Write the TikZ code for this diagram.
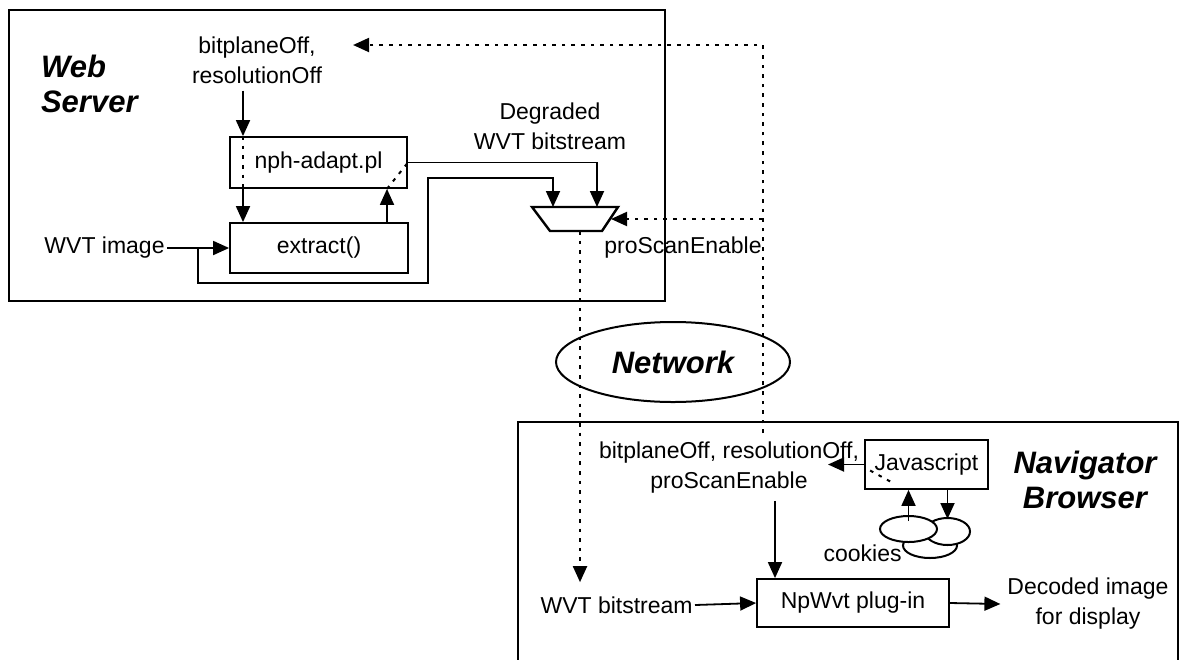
\documentclass[tikz,border=0pt]{standalone}
\usepackage{fontspec}
\setmainfont{Liberation Sans}
\usetikzlibrary{arrows.meta,shapes.geometric}
\tikzset{
  box/.style={draw=black,line width=0.9pt,inner sep=0pt},
  lbl/.style={align=center,font=\fontsize{11.5}{15}\selectfont},
  ttl/.style={align=center,font=\fontsize{15.5}{17.5}\selectfont\bfseries\itshape},
  wire/.style={line width=0.9pt},
  dots/.style={line width=1pt,dash pattern=on 1.8pt off 3pt},
  cookie/.style={ellipse,draw=black,fill=white,line width=1pt,inner sep=0pt},
}
\begin{document}
\begin{tikzpicture}[x=0.5pt,y=-0.5pt,>={Triangle[length=8pt,width=7pt]}]
    \useasboundingbox (0,0) rectangle (1181,659);
    % frames
    \draw[line width=1.1pt] (9,10) rectangle (665,301);
    \draw[line width=1.2pt] (518,422) rectangle (1178,680);
    \node[ttl,align=left,anchor=west] (srvname) at ( 34.0,  84.0) {Web\\Server};
    \node[ttl]                        (navname) at (1085.0, 480.0) {Navigator\\Browser};
    \node[ttl,ellipse,draw=black,line width=1pt,minimum width=117pt,minimum height=40pt]
                                      (net)     at ( 673.0, 362.0) {Network};
    % web server
    \node[lbl]                        (srvpar)  at ( 257.0,  60.0) {bitplaneOff,\\resolutionOff};
    \node[box,lbl,minimum width=88.5pt,minimum height=25.5pt] (nph) at (318.5, 162.5) {nph-adapt.pl};
    \node[box,lbl,minimum width=89pt,minimum height=25pt]     (ext) at (319.0, 248.0) {extract()};
    \node[lbl,anchor=east,inner sep=1pt] (wvtimg) at (167.0, 248.0) {WVT image};
    \node[lbl]                        (degr)    at ( 550.0, 126.0) {Degraded\\WVT bitstream};
    \node[lbl]                        (pscan)   at ( 683.0, 248.0) {proScanEnable};
    \coordinate (colL)  at (243,0);
    \coordinate (colR)  at (387,0);
    \coordinate (split) at (198,248);
    \coordinate (loop)  at (428,283);
    \coordinate (bend)  at (428,178);
    \coordinate (muxA)  at (553,207);
    \coordinate (muxB)  at (597,207);
    \coordinate (muxS)  at (611,219);
    \coordinate (muxO)  at (580,231);
    \coordinate (busT)  at (763,45);
    \coordinate (busB)  at (763,433);
    \draw[line width=1.2pt] (532,207) -- (618,207) -- (602,231) -- (550,231) -- cycle;
    \draw[->,wire]           (srvpar.south -| colL) to (nph.north -| colL);
    \draw[->,wire]           (nph.south -| colL)    to (ext.north -| colL);
    \draw[->,wire]           (ext.north -| colR)    to (nph.south -| colR);
    \draw[dots]              (nph.north -| colL)    to (nph.south -| colL);
    \draw[dots]              (nph.south -| colR)    to (nph.east);
    \draw[->,wire]           (wvtimg.east)          to (ext.west);
    \draw[->,wire]           (nph.east) -| (muxB);
    \draw[->,wire]           (split) |- (loop) -- (bend) -| (muxA);
    \draw[->,dots]           (busB) -- (busT) -- ([xshift=12pt]srvpar.east |- busT);
    \draw[->,dots]           (busT |- muxS)         to (muxS);
    % navigator browser
    \node[lbl]                        (brpar)   at ( 729.0, 468.0) {bitplaneOff, resolutionOff,\\proScanEnable};
    \node[box,lbl,minimum width=61.5pt,minimum height=24.5pt] (js) at (926.5, 464.5) {Javascript};
    \node[box,lbl,minimum width=96pt,minimum height=24pt]     (np) at (853.0, 603.0) {NpWvt plug-in};
    \node[lbl,anchor=east,inner sep=1pt] (wvtbit) at (695.0, 605.0) {WVT bitstream};
    \node[lbl]                        (decod)   at (1088.0, 604.0) {Decoded image\\for display};
    \node[cookie,minimum width=27pt,minimum height=12.5pt]   (ck3) at (930.0, 545.5) {};
    \node[cookie,minimum width=22.5pt,minimum height=13.5pt] (ck2) at (947.5, 531.5) {};
    \node[cookie,minimum width=28.5pt,minimum height=13pt]   (ck1) at (908.5, 529.0) {};
    \node[lbl,anchor=east,inner sep=1pt] (cookies) at (904.0, 553.0) {cookies};
    \coordinate (colP)  at (775,0);
    \coordinate (jsout) at (828,464.5);
    \draw[->,dots]           (muxO) to ([yshift=6pt]muxO |- wvtbit.north);
    \draw[->,wire]           (js.west)              to (jsout);
    \draw[dots]              ([shift={(3pt,-3pt)}]js.west) to ++(11pt,-6pt);
    \draw[->,wire]           (brpar.south -| colP)  to (np.north -| colP);
    \draw[->,wire]           (wvtbit.east)          to (np.west);
    \draw[->,wire]           (np.east)              to (decod.west);
    \draw[->,wire]           ([yshift=-3pt]ck1.north) to (ck1.north |- js.south);
    \draw[->,wire]           (js.south -| ck2.north) to ([yshift=-1pt]ck2.north);
\end{tikzpicture}
\end{document}
